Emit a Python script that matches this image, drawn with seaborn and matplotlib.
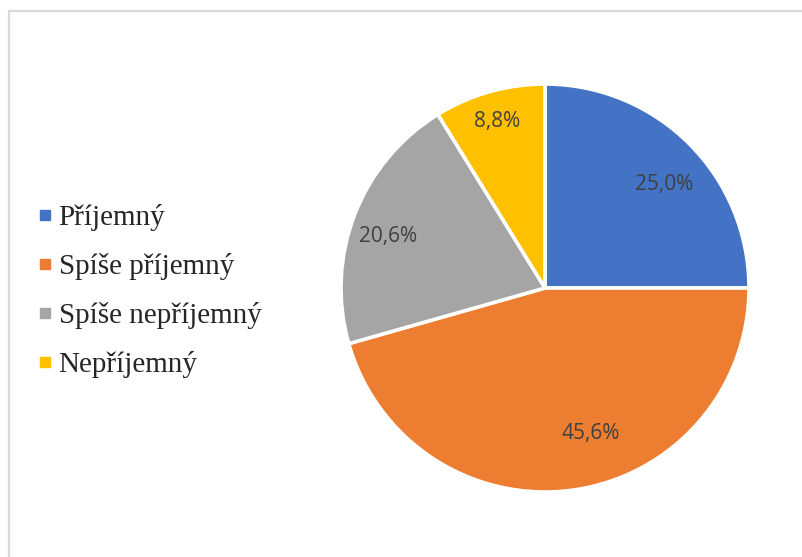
import matplotlib
matplotlib.use("Agg")
import matplotlib.pyplot as plt
from matplotlib.lines import Line2D
from matplotlib.patches import Rectangle
import seaborn as sns

categories = ["Příjemný", "Spíše příjemný", "Spíše nepříjemný", "Nepříjemný"]
shares = [25.0, 45.6, 20.6, 8.8]
colors = ["#4472C4", "#ED7D31", "#A5A5A5", "#FFC000"]

# label anchor points inside each slice, in units of the pie radius
label_xy = [(0.583, 0.508), (0.223, -0.711), (-0.770, 0.253), (-0.235, 0.814)]

sns.set_theme(style="white")
palette = sns.color_palette(colors)

W, H = 803, 557
fig = plt.figure(figsize=(W / 100, H / 100), dpi=100)
fig.patch.set_facecolor("white")

# light frame around the chart area (right and bottom edges run off the canvas)
fig.add_artist(Rectangle((9 / W, -0.2), 1.2, 1.2 - 11 / H, transform=fig.transFigure,
                         facecolor="none", edgecolor="#D9D9D9", linewidth=1.6))

cx, cy, r = 545, 288, 204
ax = fig.add_axes([(cx - r) / W, (H - cy - r) / H, 2 * r / W, 2 * r / H])
wedges, _ = ax.pie(shares, colors=palette, startangle=90, counterclock=False,
                   radius=1, wedgeprops=dict(edgecolor="white", linewidth=2.6))
ax.set_xlim(-1, 1)
ax.set_ylim(-1, 1)
ax.set_aspect("equal")
ax.axis("off")

for (lx, ly), v in zip(label_xy, shares):
    ax.text(lx, ly, f"{v:.1f}%".replace(".", ","),
            ha="center", va="center", fontsize=15, color="#404040",
            family="Open Sans")

handles = [Line2D([], [], marker="s", linestyle="none", markersize=7.2,
                  markerfacecolor=c, markeredgecolor=c) for c in palette]
fig.legend(handles, categories, loc="center left",
           bbox_to_anchor=(40 / W, (H - 291) / H), frameon=False,
           prop=dict(family="Liberation Serif", size=21),
           handlelength=0.34, handletextpad=0.3, labelspacing=0.75,
           borderpad=0, borderaxespad=0)

fig.savefig("out.png", dpi=100, facecolor="white")
